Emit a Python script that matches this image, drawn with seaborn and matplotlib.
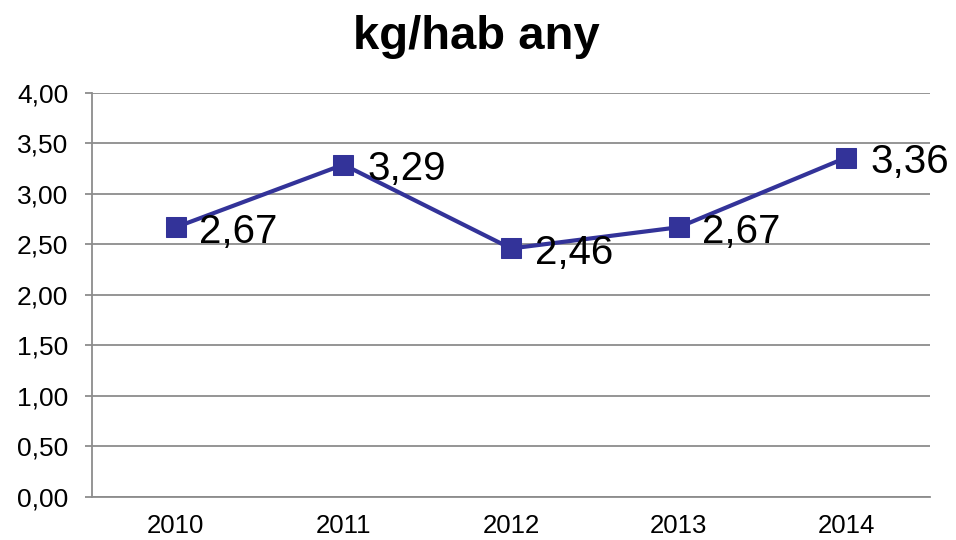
import numpy as np
import pandas as pd
import matplotlib
matplotlib.use("Agg")
import matplotlib.pyplot as plt
import seaborn as sns
from matplotlib.ticker import FixedLocator, FuncFormatter

# Dades del grafic
YEARS = ["2010", "2011", "2012", "2013", "2014"]
KG_HAB = [2.67, 3.29, 2.46, 2.67, 3.36]
TITLE = "kg/hab any"

LINE_COLOR = "#333399"
GRID_COLOR = "#8c8c8c"


def fmt_comma(v, pos=None):
    return f"{v:.2f}".replace(".", ",")


def main():
    sns.set_style("white")
    plt.rcParams["font.family"] = ["Liberation Sans", "DejaVu Sans"]
    plt.rcParams["text.color"] = "black"
    plt.rcParams["xtick.labelcolor"] = "black"
    plt.rcParams["ytick.labelcolor"] = "black"

    df = pd.DataFrame({"year": YEARS, "value": KG_HAB})

    fig = plt.figure(figsize=(9.56, 5.40), dpi=100)
    ax = fig.add_axes([0.0962, 0.0796, 0.8768, 0.7484])

    sns.lineplot(data=df, x="year", y="value", ax=ax, color=LINE_COLOR,
                 linewidth=3, marker="s", markersize=14,
                 markeredgecolor=LINE_COLOR, markerfacecolor=LINE_COLOR, zorder=3)

    # etiquetes de dades
    for i, v in enumerate(KG_HAB):
        ax.annotate(fmt_comma(v), (i, v), xytext=(17, -11),
                    textcoords="offset points", ha="left", va="baseline",
                    fontsize=29, color="black", zorder=4)

    ax.set_xlim(-0.5, len(YEARS) - 0.5)
    ax.set_ylim(0, 4)
    ax.set_yticks(np.arange(0, 4.01, 0.5))
    ax.yaxis.set_major_formatter(FuncFormatter(fmt_comma))
    ax.grid(axis="y", color=GRID_COLOR, linewidth=1.3)
    ax.set_axisbelow(True)

    # marques de l'eix x entre categories, estil Excel
    ax.set_xticks(range(len(YEARS)))
    ax.set_xticklabels(YEARS)
    ax.xaxis.set_minor_locator(FixedLocator(np.arange(-0.5, len(YEARS), 1.0)))
    ax.tick_params(axis="x", which="major", length=0, labelsize=18.5, pad=12)
    ax.tick_params(axis="x", which="minor", length=5, width=1.3,
                   color=GRID_COLOR, direction="out")
    ax.tick_params(axis="y", length=5, width=1.3, color=GRID_COLOR,
                   labelsize=19, pad=12, direction="out", left=True)

    for side in ["top", "right"]:
        ax.spines[side].set_visible(False)
    for side in ["left", "bottom"]:
        ax.spines[side].set_color(GRID_COLOR)
        ax.spines[side].set_linewidth(1.3)

    ax.set_xlabel("")
    ax.set_ylabel("")
    fig.text(0.498, 0.909, TITLE, ha="center", va="baseline",
             fontsize=34, fontweight="bold", color="black")

    fig.savefig("out.png", dpi=100, facecolor="white")
    plt.close(fig)


if __name__ == "__main__":
    main()
